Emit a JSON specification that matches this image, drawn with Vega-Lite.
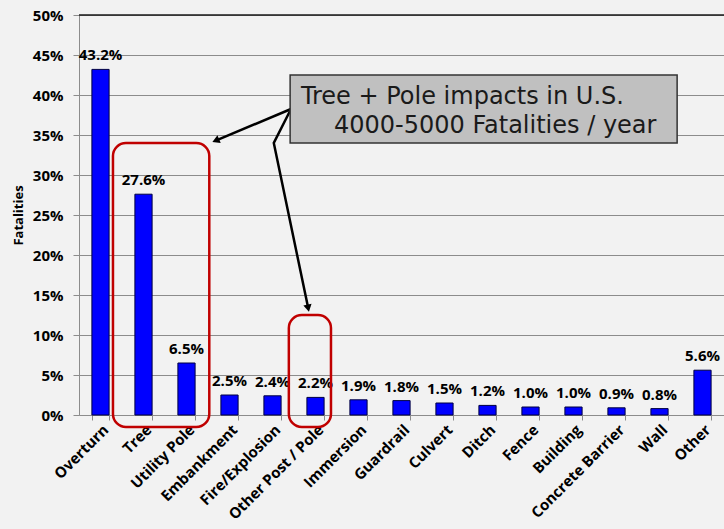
{
  "$schema": "https://vega.github.io/schema/vega-lite/v6.json",
  "width": 645,
  "height": 400,
  "autosize": "none",
  "padding": {"left": 79, "top": 15, "right": 0, "bottom": 114},
  "background": "#f2f2f2",
  "config": {"view": {"stroke": null}, "font": "Open Sans"},
  "datasets": {
    "bars": [
      {"cat": "Overturn", "share": 0.432},
      {"cat": "Tree", "share": 0.276},
      {"cat": "Utility Pole", "share": 0.065},
      {"cat": "Embankment", "share": 0.025},
      {"cat": "Fire/Explosion", "share": 0.024},
      {"cat": "Other Post / Pole", "share": 0.022},
      {"cat": "Immersion", "share": 0.019},
      {"cat": "Guardrail", "share": 0.018},
      {"cat": "Culvert", "share": 0.015},
      {"cat": "Ditch", "share": 0.012},
      {"cat": "Fence", "share": 0.010},
      {"cat": "Building", "share": 0.010},
      {"cat": "Concrete Barrier", "share": 0.009},
      {"cat": "Wall", "share": 0.008},
      {"cat": "Other", "share": 0.056}
    ],
    "frames": [
      {"id": "r1", "x1": 0.79, "x2": 3.03, "y1": 0.34, "y2": -0.015},
      {"id": "r2", "x1": 4.88, "x2": 5.86, "y1": 0.125, "y2": -0.015}
    ],
    "callout": [
      {"x1": 4.91, "x2": 13.91, "y1": 0.425, "y2": 0.34}
    ],
    "calloutText": [
      {"t": "Tree + Pole impacts in U.S.", "u": 5.16, "v": 0.389},
      {"t": "4000-5000 Fatalities / year", "u": 5.93, "v": 0.3525}
    ],
    "arrows": [
      {"id": "a1", "o": 0, "u": 4.93, "v": 0.3825},
      {"id": "a1", "o": 1, "u": 3.18, "v": 0.343},
      {"id": "a2", "o": 0, "u": 4.93, "v": 0.3825},
      {"id": "a2", "o": 1, "u": 4.53, "v": 0.34},
      {"id": "a2", "o": 2, "u": 5.33, "v": 0.1336}
    ],
    "heads": [
      {"id": "a1", "u": 3.18, "v": 0.343},
      {"id": "a2", "u": 5.33, "v": 0.1336}
    ]
  },
  "layer": [
    {
      "data": {"name": "bars"},
      "encoding": {
        "x": {
          "field": "cat", "type": "nominal", "sort": null,
          "scale": {"paddingInner": 0.6, "paddingOuter": 0.3},
          "axis": {
            "title": null, "labelAngle": -45, "labelFont": "Open Sans", "labelFontWeight": "bold",
            "labelFontSize": 15, "labelColor": "#000", "domainColor": "#8c8c8c", "tickColor": "#8c8c8c",
            "tickBand": "extent", "tickSize": 5, "labelPadding": 2, "labelOverlap": false, "labelBound": false
          }
        },
        "y": {
          "field": "share", "type": "quantitative",
          "scale": {"domain": [0, 0.5], "nice": false},
          "axis": {
            "format": ".0%", "tickCount": 10, "grid": true, "gridColor": "#8c8c8c", "gridWidth": 1,
            "domainColor": "#8c8c8c", "tickColor": "#8c8c8c", "tickSize": 6,
            "labelFont": "Open Sans", "labelFontWeight": "bold", "labelFontSize": 15, "labelColor": "#000",
            "labelPadding": 10, "title": "Fatalities", "titleFont": "Open Sans", "titleFontSize": 13,
            "titleFontWeight": "bold", "titlePadding": 7, "titleColor": "#000"
          }
        }
      },
      "layer": [
        {"mark": {"type": "bar", "color": "#0000ff", "stroke": "#000040", "strokeWidth": 1}},
        {
          "mark": {"type": "text", "dy": -9, "baseline": "alphabetic", "fontWeight": "bold", "fontSize": 15, "color": "#000", "font": "Open Sans"},
          "encoding": {"text": {"field": "share", "format": ".1%"}}
        }
      ]
    },
    {
      "data": {"values": [{}]},
      "mark": {"type": "rule", "color": "#1a1a1a", "strokeWidth": 1.5},
      "encoding": {"y": {"datum": 0.5, "type": "quantitative", "scale": {"domain": [0, 0.5], "nice": false}, "axis": null}}
    },
    {
      "data": {"name": "frames"},
      "mark": {"type": "rect", "filled": false, "stroke": "#c00000", "strokeWidth": 2.5, "cornerRadius": 13},
      "encoding": {
        "x": {"field": "x1", "type": "quantitative", "scale": {"domain": [0, 15], "nice": false, "zero": false}, "axis": null},
        "x2": {"field": "x2"},
        "y": {"field": "y1", "type": "quantitative", "scale": {"domain": [0, 0.5], "nice": false}, "axis": null},
        "y2": {"field": "y2"}
      }
    },
    {
      "data": {"name": "arrows"},
      "mark": {"type": "line", "color": "#000", "strokeWidth": 2.5},
      "encoding": {
        "x": {"field": "u", "type": "quantitative", "scale": {"domain": [0, 15], "nice": false, "zero": false}, "axis": null},
        "y": {"field": "v", "type": "quantitative", "scale": {"domain": [0, 0.5], "nice": false}, "axis": null},
        "detail": {"field": "id"},
        "order": {"field": "o"}
      }
    },
    {
      "data": {"name": "heads"},
      "transform": [{"filter": "datum.id === 'a1'"}],
      "mark": {"type": "point", "shape": "triangle-up", "filled": true, "color": "#000", "size": 70, "angle": 247, "opacity": 1},
      "encoding": {
        "x": {"field": "u", "type": "quantitative", "scale": {"domain": [0, 15], "nice": false, "zero": false}, "axis": null},
        "y": {"field": "v", "type": "quantitative", "scale": {"domain": [0, 0.5], "nice": false}, "axis": null}
      }
    },
    {
      "data": {"name": "heads"},
      "transform": [{"filter": "datum.id === 'a2'"}],
      "mark": {"type": "point", "shape": "triangle-up", "filled": true, "color": "#000", "size": 70, "angle": 168, "opacity": 1},
      "encoding": {
        "x": {"field": "u", "type": "quantitative", "scale": {"domain": [0, 15], "nice": false, "zero": false}, "axis": null},
        "y": {"field": "v", "type": "quantitative", "scale": {"domain": [0, 0.5], "nice": false}, "axis": null}
      }
    },
    {
      "data": {"name": "callout"},
      "mark": {"type": "rect", "fill": "#c0c0c0", "stroke": "#333", "strokeWidth": 1.5},
      "encoding": {
        "x": {"field": "x1", "type": "quantitative", "scale": {"domain": [0, 15], "nice": false, "zero": false}, "axis": null},
        "x2": {"field": "x2"},
        "y": {"field": "y1", "type": "quantitative", "scale": {"domain": [0, 0.5], "nice": false}, "axis": null},
        "y2": {"field": "y2"}
      }
    },
    {
      "data": {"name": "calloutText"},
      "mark": {"type": "text", "align": "left", "baseline": "alphabetic", "font": "DejaVu Sans", "fontSize": 24, "color": "#1a1a1a"},
      "encoding": {
        "x": {"field": "u", "type": "quantitative", "scale": {"domain": [0, 15], "nice": false, "zero": false}, "axis": null},
        "y": {"field": "v", "type": "quantitative", "scale": {"domain": [0, 0.5], "nice": false}, "axis": null},
        "text": {"field": "t"}
      }
    }
  ],
  "resolve": {"scale": {"x": "independent", "y": "independent"}}
}
